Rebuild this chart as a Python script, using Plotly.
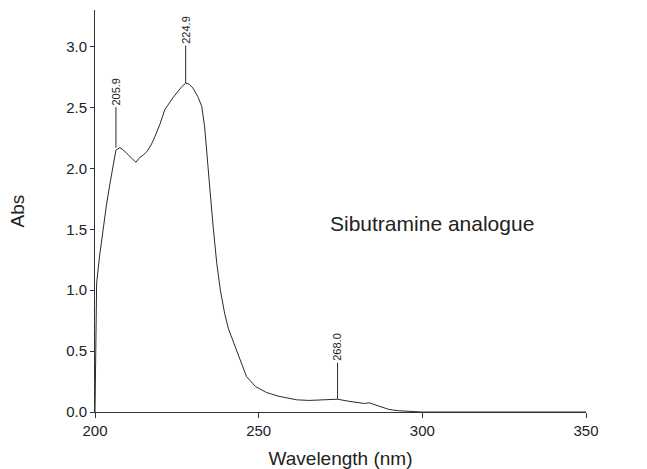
import plotly.graph_objects as go

# Spectrum (wavelength nm on the drawn axis, absorbance)
wavelength = [200.0, 200.1, 200.2, 200.35, 200.5, 201.4, 202.4, 203.5, 204.6, 205.5, 206.4,
              207.6, 208.7, 209.8, 211.3, 212.5, 213.7, 214.8, 215.9, 217.1, 218.3, 219.8,
              221.3, 222.9, 223.8, 225.0, 226.5, 227.7, 228.8, 229.9, 231.4, 232.6, 233.5,
              234.1, 234.5, 235.1, 236.1, 237.2, 238.3, 239.6, 240.8, 242.1, 243.8, 246.3,
              249.0, 252.4, 256.0, 258.5, 261.6, 265.5, 268.6, 271.6, 274.1, 277.1, 280.8,
              282.3, 283.8, 286.3, 289.9, 293.0, 297.6, 300.0, 320.0, 340.0, 350.0]
absorbance = [0.0, 0.2, 0.45, 0.75, 1.06, 1.28, 1.50, 1.70, 1.88, 2.02, 2.15,
              2.17, 2.15, 2.12, 2.08, 2.05, 2.09, 2.11, 2.14, 2.19, 2.26, 2.36,
              2.48, 2.55, 2.58, 2.62, 2.67, 2.70, 2.69, 2.66, 2.59, 2.51, 2.34,
              2.15, 1.99, 1.83, 1.52, 1.22, 1.00, 0.81, 0.68, 0.59, 0.46, 0.29,
              0.21, 0.16, 0.13, 0.115, 0.10, 0.095, 0.10, 0.10, 0.105, 0.09, 0.075,
              0.07, 0.075, 0.05, 0.02, 0.01, 0.003, 0.0, 0.0, 0.0, 0.0]

peak_nm = [206.4, 227.7, 274.1]
peak_abs = [2.17, 2.70, 0.105]
peak_labels = ["205.9", "224.9", "268.0"]
peak_stem = [40, 37, 36]

x_ticks = [200, 250, 300, 350]
y_ticks = [0.0, 0.5, 1.0, 1.5, 2.0, 2.5, 3.0]
y_tick_labels = ["0.0", "0.5", "1.0", "1.5", "2.0", "2.5", "3.0"]

compound = "Sibutramine analogue"
FONT = "Liberation Sans, Arial, sans-serif"

fig = go.Figure()
fig.add_trace(go.Scatter(x=wavelength, y=absorbance, mode="lines",
                         line=dict(color="#2a2a2a", width=1), hoverinfo="skip",
                         showlegend=False))

for x, y, lab, stem in zip(peak_nm, peak_abs, peak_labels, peak_stem):
    fig.add_annotation(x=x, y=y, text=lab, textangle=-90, showarrow=True,
                       arrowhead=0, arrowwidth=1, arrowcolor="#2a2a2a",
                       ax=0, ay=-stem - 16, standoff=0,
                       font=dict(size=11, color="#222222", family=FONT))

fig.add_annotation(x=303.0, y=1.545, text=compound, showarrow=False,
                   font=dict(size=21, color="#222222", family=FONT))

fig.update_layout(
    width=647, height=469,
    margin=dict(l=95, r=61, t=10, b=57),
    paper_bgcolor="white", plot_bgcolor="white",
    font=dict(family=FONT, size=14, color="#222222"),
    xaxis=dict(range=[200, 350], tickvals=x_ticks, ticks="outside", ticklen=5,
               tickcolor="#333333", showline=True, linecolor="#333333", linewidth=1,
               showgrid=False, zeroline=False, tickfont=dict(size=15), automargin=False,
               title=dict(text="Wavelength (nm)", font=dict(size=19), standoff=16)),
    yaxis=dict(range=[0, 3.3], tickvals=y_ticks, ticktext=y_tick_labels,
               ticks="outside", ticklen=4, tickcolor="#333333", automargin=False,
               showline=True, linecolor="#333333", linewidth=1,
               showgrid=False, zeroline=False, tickfont=dict(size=15),
               title=dict(text="Abs", font=dict(size=19), standoff=36)),
)

fig.write_html("out.html")
